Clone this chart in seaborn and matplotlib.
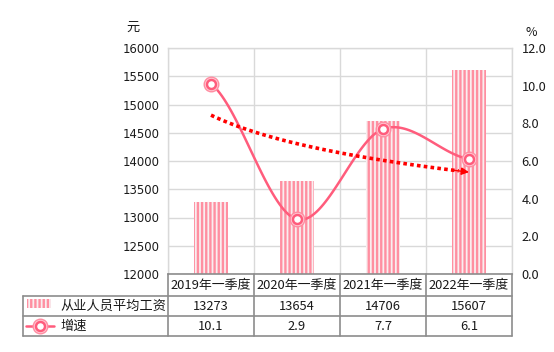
import numpy as np
import pandas as pd
import matplotlib
matplotlib.use('Agg')
import matplotlib.pyplot as plt
import matplotlib.transforms as mtransforms
from matplotlib.lines import Line2D
from matplotlib.patches import Rectangle
import seaborn as sns

# ---------------- data ----------------
categories = ['2019年一季度', '2020年一季度', '2021年一季度', '2022年一季度']
wages = [13273, 13654, 14706, 15607]
growth = [10.1, 2.9, 7.7, 6.1]
series_names = ['从业人员平均工资', '增速']
left_ticks = [12000, 12500, 13000, 13500, 14000, 14500, 15000, 15500, 16000]
right_ticks = [0.0, 2.0, 4.0, 6.0, 8.0, 10.0, 12.0]
left_unit = '元'
right_unit = '%'

# ---------------- style ----------------
sns.set_style('white')
plt.rcParams['font.family'] = ['Noto Sans CJK SC', 'DejaVu Sans']
plt.rcParams['hatch.linewidth'] = 1.7

BAR_STRIPE = '#ff8fa1'
BAR_BG = '#f9eef0'
LINE_C = '#ff5c7c'
GRID_C = '#d9d9d9'
TABLE_C = '#8c8c8c'

W, H = 554, 352
fig = plt.figure(figsize=(W / 100, H / 100), dpi=100)
L, R, T, B = 168, 512, 48, 274
ax = fig.add_axes([L / W, 1 - B / H, (R - L) / W, (B - T) / H])

# pixel transform (x right, y down from top-left)
pxT = mtransforms.Affine2D().scale(1 / W, -1 / H).translate(0, 1) + fig.transFigure

# ---------------- bars ----------------
df = pd.DataFrame({'cat': categories, 'wage': wages})
sns.barplot(data=df, x='cat', y='wage', ax=ax, width=0.4, color=BAR_BG,
            saturation=1, zorder=2)
for p in ax.patches:
    p.set_facecolor(BAR_BG)
    p.set_edgecolor(BAR_STRIPE)
    p.set_linewidth(0)
    p.set_hatch('||||')

ax.set_xlim(-0.5, len(categories) - 0.5)
ax.set_ylim(left_ticks[0], left_ticks[-1])
ax.set_yticks(left_ticks)
ax.set_yticklabels([str(v) for v in left_ticks], family='DejaVu Sans', fontsize=8.4, color='#1a1a1a')
ax.set_xticks(np.arange(len(categories) + 1) - 0.5)
ax.set_xticklabels([])
ax.set_xlabel('')
ax.set_ylabel('')
ax.tick_params(axis='both', length=0, pad=6)
ax.grid(True, axis='both', color=GRID_C, lw=1)
ax.set_axisbelow(True)
for s in ['top', 'right', 'left']:
    ax.spines[s].set_color(GRID_C)
    ax.spines[s].set_linewidth(1)
ax.spines['bottom'].set_color(TABLE_C)
ax.spines['bottom'].set_linewidth(1.2)

# ---------------- right axis ----------------
ax2 = ax.twinx()
ax2.set_ylim(right_ticks[0], right_ticks[-1])
ax2.set_yticks(right_ticks)
ax2.set_yticklabels([f'{v:.1f}' for v in right_ticks], fontsize=9.2, color='#1a1a1a')
ax2.tick_params(axis='y', length=0, pad=7)
for s in ax2.spines.values():
    s.set_visible(False)

# smooth line (Catmull-Rom / Hermite through the data points)
xs = np.arange(len(growth), dtype=float)
ys = np.array(growth, dtype=float)
n = len(ys)
m = np.zeros(n)
for i in range(n):
    if i == 0:
        m[i] = (ys[1] - ys[0]) / 2
    elif i == n - 1:
        m[i] = (ys[-1] - ys[-2]) / 2
    else:
        m[i] = (ys[i + 1] - ys[i - 1]) / 2
sx, sy = [], []
t = np.linspace(0, 1, 40)
for i in range(n - 1):
    h00 = 2 * t**3 - 3 * t**2 + 1
    h10 = t**3 - 2 * t**2 + t
    h01 = -2 * t**3 + 3 * t**2
    h11 = t**3 - t**2
    sx.extend(xs[i] + t)
    sy.extend(h00 * ys[i] + h10 * m[i] + h01 * ys[i + 1] + h11 * m[i + 1])
ax2.plot(sx, sy, color=LINE_C, lw=1.8, zorder=4, solid_capstyle='round')

# logarithmic trend line of growth
b, a = np.polyfit(np.log(xs + 1), ys, 1)
xt = np.linspace(0, xs[-1] - 0.12, 60)
yt = a + b * np.log(xt + 1)
ax2.plot(xt, yt, color='#ff0000', lw=2.6, linestyle=(0, (1.0, 0.9)),
         dash_capstyle='butt', zorder=5)
x_end = xs[-1]
ax2.annotate('', xy=(x_end, a + b * np.log(x_end + 1)),
             xytext=(xt[-1] - 0.05, a + b * np.log(xt[-1] - 0.05 + 1)),
             arrowprops=dict(arrowstyle='-|>', color='#ff0000', lw=1,
                             mutation_scale=11, shrinkA=0, shrinkB=0),
             zorder=6)

# markers
ax2.plot(xs, ys, ls='none', marker='o', ms=10.5, mfc='#ffd0d9', mec='#ff8da2',
         mew=1.0, zorder=6)
ax2.plot(xs, ys, ls='none', marker='o', ms=6.5, mfc='white', mec=LINE_C,
         mew=1.8, zorder=7)

# ---------------- unit labels ----------------
fig.text(133, 27, left_unit, transform=pxT, ha='center', va='center', fontsize=9.5, color='#1a1a1a')
fig.text(531, 32, right_unit, transform=pxT, ha='center', va='center', fontsize=9, color='#1a1a1a')

# ---------------- data table ----------------
TL = 23
rows_y = [274, 296, 316, 336]
def hline(y, x0, x1):
    fig.add_artist(Line2D([x0, x1], [y, y], transform=pxT, color=TABLE_C, lw=1.2))
def vline(x, y0, y1):
    fig.add_artist(Line2D([x, x], [y0, y1], transform=pxT, color=TABLE_C, lw=1.2))

for y in rows_y[1:]:
    hline(y, TL, R)
vline(TL, rows_y[1], rows_y[3])
col_w = (R - L) / len(categories)
for k in range(len(categories) + 1):
    vline(L + k * col_w, rows_y[0], rows_y[3])

xT = mtransforms.blended_transform_factory(ax.transData, pxT)
for i, c in enumerate(categories):
    fig.text(i, 285.5, c, transform=xT, ha='center', va='center', fontsize=9.3, color='#1a1a1a')
    fig.text(i, 306.5, str(wages[i]), transform=xT, ha='center', va='center', fontsize=9.3, color='#1a1a1a')
    fig.text(i, 326.5, f'{growth[i]:.1f}', transform=xT, ha='center', va='center', fontsize=9.3, color='#1a1a1a')

# row labels with legend swatches
fig.add_artist(Rectangle((27, 299), 24, 9, transform=pxT, facecolor=BAR_BG,
                         edgecolor=BAR_STRIPE, lw=0, hatch='||||'))
fig.text(60, 306.5, series_names[0], transform=pxT, ha='left', va='center', fontsize=9.5, color='#1a1a1a')
fig.add_artist(Line2D([26, 54], [326, 326], transform=pxT, color=LINE_C, lw=1.8))
fig.add_artist(Line2D([40], [326], transform=pxT, ls='none', marker='o', ms=10.5,
                      mfc='#ffd0d9', mec='#ff8da2', mew=1.0))
fig.add_artist(Line2D([40], [326], transform=pxT, ls='none', marker='o', ms=6.5,
                      mfc='white', mec=LINE_C, mew=1.8))
fig.text(60, 326.5, series_names[1], transform=pxT, ha='left', va='center', fontsize=9.5, color='#1a1a1a')

fig.savefig('out.png', dpi=100, facecolor='white')
